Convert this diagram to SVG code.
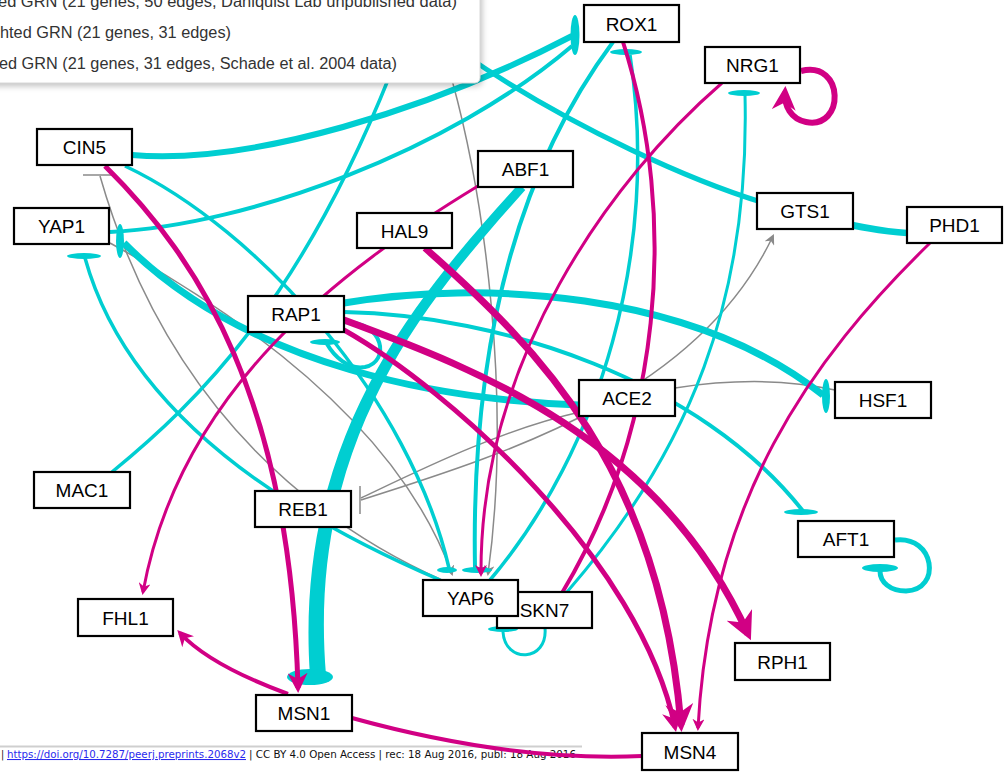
<svg xmlns="http://www.w3.org/2000/svg" width="1008" height="772" viewBox="0 0 1008 772">
<defs>
<style>
.n rect{fill:#fff;stroke:#000;stroke-width:2.2}
.n text{font-family:"Liberation Sans",Arial,sans-serif;font-size:19px;text-anchor:middle;fill:#000}
.c{fill:none;stroke:#00CED1}
.m{fill:none;stroke:#D10084;marker-end:url(#am)}
.m0{fill:none;stroke:#D10084}
.g{fill:none;stroke:#8a8a8a;stroke-width:1.5}
.ga{fill:none;stroke:#8a8a8a;stroke-width:1.5;marker-end:url(#ag)}
.tb{fill:#00CED1}
.lg{font-family:"Liberation Sans",Arial,sans-serif;font-size:16px;fill:#333}
.ft{font-family:"DejaVu Sans Condensed","DejaVu Sans",sans-serif;font-size:10.5px;fill:#111}
</style>
<marker id="am" viewBox="0 0 10 10" refX="7.5" refY="5" markerWidth="4" markerHeight="4" orient="auto" markerUnits="strokeWidth"><path d="M0,0 L10,5 L0,10 L3,5 Z" fill="#D10084"/></marker>
<marker id="ag" viewBox="0 0 10 10" refX="8" refY="5" markerWidth="7" markerHeight="7" orient="auto" markerUnits="strokeWidth"><path d="M0,0 L10,5 L0,10 L3,5 Z" fill="#8a8a8a"/></marker>
<filter id="blur" x="-10%" y="-20%" width="120%" height="150%"><feGaussianBlur stdDeviation="3"/></filter>
</defs>
<rect x="0" y="0" width="1008" height="772" fill="#fff"/>

<g id="footer">
<line x1="0" y1="746.5" x2="582" y2="746.5" stroke="#cfcfcf" stroke-width="2"/>
<text class="ft" x="1" y="758">|</text>
<text class="ft" x="7" y="758" textLength="239" lengthAdjust="spacingAndGlyphs" fill="#2a2aee" text-decoration="underline" style="fill:#2a2aee">https://doi.org/10.7287/peerj.preprints.2068v2</text>
<text class="ft" x="249" y="758" textLength="327" lengthAdjust="spacingAndGlyphs">| CC BY 4.0 Open Access | rec: 18 Aug 2016, publ: 18 Aug 2016</text>
</g>

<g id="connectors">
<!-- gray -->
<path class="g" d="M442,580 C330,530 170,420 100,176"/>
<path class="g" d="M83,175 H113"/>
<path class="ga" d="M110,243 C250,320 400,430 452,574"/>
<path class="ga" d="M361,500 C520,450 700,390 773,236"/>
<path class="g" d="M580,412 C500,430 420,470 361,498"/>
<path class="g" d="M360,486 V514"/>
<path class="g" d="M675,388 C740,378 790,380 835,390"/>
<path class="ga" d="M452,80 C485,200 512,400 488,574"/>

<!-- cyan -->
<path class="c" stroke-width="3.5" d="M112,472 C200,400 300,300 390,75"/>
<path class="c" stroke-width="6.5" d="M907,233 C885,232 860,228 805,214"/>
<path class="c" stroke-width="5" d="M805,214 C700,190 560,120 465,55"/>
<path class="c" stroke-width="6" d="M132,155 C250,165 430,110 572,36"/>
<path class="c" stroke-width="4" d="M110,232 C250,225 450,150 572,46"/>
<ellipse class="tb" cx="575" cy="35" rx="4.5" ry="20"/>
<path class="c" stroke-width="7" d="M579,405 C450,400 250,370 124,243"/>
<ellipse class="tb" cx="120" cy="241" rx="4" ry="17"/>
<path class="c" stroke-width="7" d="M344,303 C480,280 690,290 823,395"/>
<ellipse class="tb" cx="826" cy="396" rx="4" ry="17"/>
<path class="c" stroke-width="4" d="M344,312 C500,315 700,380 803,511"/>
<ellipse class="tb" cx="801" cy="512" rx="17" ry="3"/>
<path class="c" stroke-width="4" d="M344,322 C385,322 390,362 365,367 C348,370 334,356 327,344"/>
<ellipse class="tb" cx="325" cy="342" rx="15" ry="3"/>
<path class="c" stroke-width="3.5" d="M125,166 C260,230 410,400 449,568"/>
<path class="c" stroke-width="4" d="M613,42 C540,140 470,300 475,568"/>
<ellipse class="tb" cx="447" cy="570" rx="10" ry="3"/>
<ellipse class="tb" cx="477" cy="570" rx="15" ry="3"/>
<path class="c" stroke-width="3.5" d="M490,580 C600,450 660,250 630,55"/>
<ellipse class="tb" cx="626" cy="52" rx="16" ry="3"/>
<path class="c" stroke-width="3" d="M567,592 C690,450 750,300 745,95"/>
<ellipse class="tb" cx="744" cy="93" rx="16" ry="3"/>
<path class="c" stroke-width="3.5" d="M440,580 C300,520 130,420 85,258"/>
<ellipse class="tb" cx="84" cy="256" rx="17" ry="3"/>
<path class="c" stroke-width="3" d="M545,628 C548,662 505,664 503,632"/>
<ellipse class="tb" cx="503" cy="629" rx="15" ry="3"/>
<path class="c" stroke-width="5" d="M895,540 C935,535 942,590 906,591 C890,591 880,582 880,571"/>
<ellipse class="tb" cx="880" cy="568" rx="18" ry="4"/>
<path class="tb" d="M525.3,190 C425,302 306.5,441 326,675 L310,676 C293.5,439 415,298 518.7,184 Z"/>
<ellipse class="tb" cx="310" cy="677" rx="23" ry="8"/>

<!-- magenta -->
<path class="m" stroke-width="5" d="M105,166 C200,260 290,400 298,688"/>
<path class="m" stroke-width="3" d="M478,186 C340,270 180,390 143,592"/>
<path class="m" stroke-width="4" d="M288,694 C250,680 205,660 180,633"/>
<path class="m0" stroke-width="4" d="M352,718 C450,745 550,760 642,756"/>
<path class="m" stroke-width="7" d="M425,248 C540,350 660,470 681,725"/>
<path class="m" stroke-width="7" d="M344,320 C480,370 660,440 748,634"/>
<path class="m" stroke-width="5" d="M344,330 C450,390 640,560 675,727"/>
<path class="m" stroke-width="3" d="M930,243 C810,360 710,500 698,728"/>
<path class="m" stroke-width="3" d="M722,83 C610,180 480,360 481,574"/>
<path class="m0" stroke-width="4" d="M623,42 C680,220 660,430 562,593"/>
<path class="m" stroke-width="6" d="M801,71 C845,60 845,130 806,122 C791,119 784,106 785,92"/>
</g>

<g id="nodes" class="n">
<g id="ROX1"><rect x="584" y="5" width="95" height="37"/><text x="631.5" y="30.5">ROX1</text></g>
<g id="NRG1"><rect x="705" y="47" width="95" height="36"/><text x="752.5" y="72">NRG1</text></g>
<g id="CIN5"><rect x="37" y="129" width="95" height="36"/><text x="84.5" y="154">CIN5</text></g>
<g id="ABF1"><rect x="478" y="151" width="95" height="36"/><text x="525.5" y="176">ABF1</text></g>
<g id="YAP1"><rect x="14" y="208" width="95" height="36"/><text x="61.5" y="233">YAP1</text></g>
<g id="HAL9"><rect x="357" y="213" width="95" height="35"/><text x="404.5" y="237.5">HAL9</text></g>
<g id="GTS1"><rect x="757" y="193" width="96" height="36"/><text x="805" y="218">GTS1</text></g>
<g id="PHD1"><rect x="907" y="207" width="95" height="36"/><text x="954.5" y="232">PHD1</text></g>
<g id="RAP1"><rect x="248" y="296" width="96" height="36"/><text x="296" y="321">RAP1</text></g>
<g id="ACE2"><rect x="579" y="380" width="96" height="36"/><text x="627" y="405">ACE2</text></g>
<g id="HSF1"><rect x="835" y="382" width="96" height="36"/><text x="883" y="407">HSF1</text></g>
<g id="MAC1"><rect x="34" y="472" width="96" height="36"/><text x="82" y="497">MAC1</text></g>
<g id="REB1"><rect x="255" y="491" width="96" height="36"/><text x="303" y="516">REB1</text></g>
<g id="AFT1"><rect x="798" y="521" width="96" height="36"/><text x="846" y="546">AFT1</text></g>
<g id="FHL1"><rect x="78" y="599" width="95" height="37"/><text x="125.5" y="624.5">FHL1</text></g>
<g id="SKN7"><rect x="497" y="592" width="95" height="36"/><text x="544.5" y="617">SKN7</text></g>
<g id="YAP6"><rect x="423" y="580" width="95" height="36"/><text x="470.5" y="605">YAP6</text></g>
<g id="RPH1"><rect x="735" y="643" width="95" height="37"/><text x="782.5" y="668.5">RPH1</text></g>
<g id="MSN1"><rect x="256" y="695" width="96" height="36"/><text x="304" y="720">MSN1</text></g>
<g id="MSN4"><rect x="642" y="733" width="96" height="37"/><text x="690" y="758.5">MSN4</text></g>
</g>

<g id="legend">
<rect x="-10" y="-10" width="492" height="96" rx="5" fill="#000" opacity="0.25" filter="url(#blur)"/>
<rect x="-10" y="-10" width="490" height="93" rx="5" fill="#fff" stroke="#d8d8d8" stroke-width="1"/>
<text class="lg" x="-2" y="7" textLength="459" lengthAdjust="spacingAndGlyphs">ed GRN (21 genes, 50 edges, Dahlquist Lab unpublished data)</text>
<text class="lg" x="0" y="38" textLength="231" lengthAdjust="spacingAndGlyphs">hted GRN (21 genes, 31 edges)</text>
<text class="lg" x="-1" y="69" textLength="398" lengthAdjust="spacingAndGlyphs">ed GRN (21 genes, 31 edges, Schade et al. 2004 data)</text>
</g>
</svg>
